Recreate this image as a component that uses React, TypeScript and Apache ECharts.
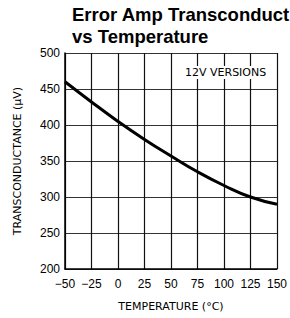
import React, { useEffect, useRef } from "react";
import * as echarts from "echarts";

const temperatures = [-50, -25, 0, 25, 50, 75, 100, 125, 150];
const transconductance = [460, 432, 405, 380, 357, 335, 316, 300, 290];
const xTicks = [-50, -25, 0, 25, 50, 75, 100, 125, 150];
const yTicks = [200, 250, 300, 350, 400, 450, 500];
const titleText = "Error Amp Transconduct\nvs Temperature";
const annotation = "12V VERSIONS";

export default function App() {
  const ref = useRef<HTMLDivElement>(null);
  useEffect(() => {
    if (!ref.current) return;
    const chart = echarts.init(ref.current, undefined, { renderer: "svg" });
    const techFont = "DejaVu Sans";
    chart.setOption({
      animation: false,
      backgroundColor: "#fff",
      title: {
        text: titleText,
        left: 72,
        top: 3,
        padding: 0,
        textStyle: {
          fontFamily: "Liberation Sans",
          fontWeight: "bold",
          fontSize: 18.5,
          lineHeight: 22,
          color: "#000",
        },
      },
      grid: { left: 65, right: 10, top: 53, bottom: 49 },
      xAxis: {
        type: "value",
        min: xTicks[0],
        max: xTicks[xTicks.length - 1],
        interval: 25,
        name: "TEMPERATURE (°C)",
        nameLocation: "middle",
        nameGap: 32,
        nameTextStyle: { fontFamily: techFont, fontSize: 11, color: "#000" },
        axisLine: { show: true, onZero: false, lineStyle: { color: "#000", width: 1.5 } },
        axisTick: { show: false },
        axisLabel: {
          fontFamily: "Liberation Sans",
          fontSize: 12,
          color: "#000",
          margin: 9,
          formatter: (v: number) => (v < 0 ? "\u2212" + Math.abs(v) : String(v)),
        },
        splitLine: { show: true, lineStyle: { color: "#111", width: 1.2 } },
      },
      yAxis: {
        type: "value",
        min: yTicks[0],
        max: yTicks[yTicks.length - 1],
        interval: 50,
        name: "TRANSCONDUCTANCE (\u03bcV)",
        nameLocation: "middle",
        nameGap: 42,
        nameTextStyle: { fontFamily: techFont, fontSize: 11, color: "#000" },
        axisLine: { show: true, onZero: false, lineStyle: { color: "#000", width: 1.5 } },
        axisTick: { show: false },
        axisLabel: {
          fontFamily: "Liberation Sans",
          fontSize: 12,
          color: "#000",
          margin: 5,
        },
        splitLine: { show: true, lineStyle: { color: "#333", width: 1.2 } },
      },
      graphic: [
        {
          type: "text",
          left: 182,
          top: 66,
          z: 10,
          style: {
            text: annotation,
            fontFamily: techFont,
            fontSize: 11,
            fill: "#000",
            backgroundColor: "#fff",
            padding: [1, 3],
          },
        },
      ],
      series: [
        {
          type: "line",
          data: temperatures.map((t, i) => [t, transconductance[i]]),
          smooth: true,
          showSymbol: false,
          lineStyle: { color: "#000", width: 3 },
        },
      ],
    });
    return () => chart.dispose();
  }, []);
  return (
    <div
      ref={ref}
      style={{ position: "absolute", left: 0, top: 0, width: 290, height: 318 }}
    />
  );
}
